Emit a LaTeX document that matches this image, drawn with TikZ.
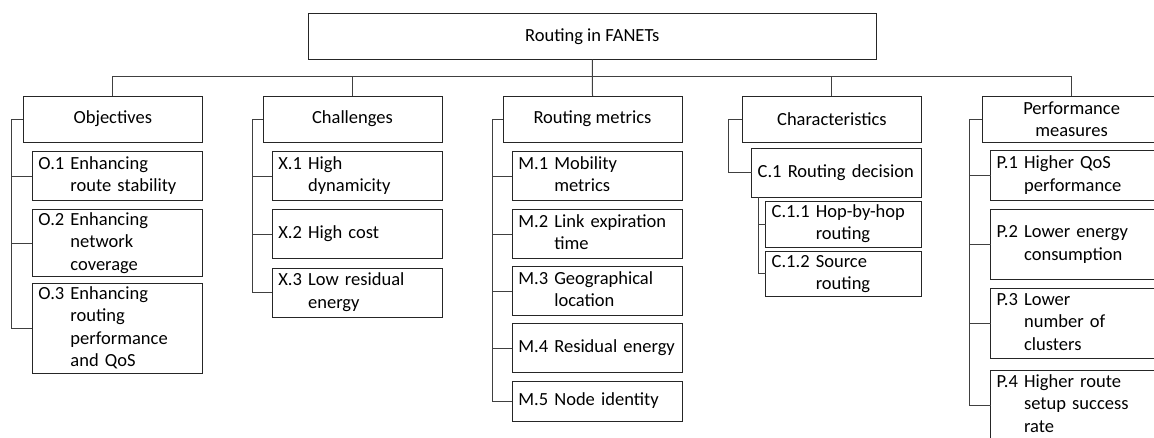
\documentclass[tikz,border=0pt]{standalone}
\usepackage{fontspec}
\setmainfont{Carlito}
\usetikzlibrary{calc}
\definecolor{bx}{HTML}{262626}
\definecolor{ln}{HTML}{404040}
\newcommand{\tb}[1]{\begin{tabular}{@{}l@{\ }l@{}}#1\end{tabular}}
\begin{document}
\begin{tikzpicture}[x=1pt,y=-1pt,
  font=\fontsize{18.5}{22.5}\selectfont,
  box/.style={draw=bx, line width=1pt, inner sep=0pt, outer sep=0pt, align=center},
  kid/.style={draw=bx, line width=1pt, anchor=north west, inner xsep=6pt, inner ysep=0pt, outer sep=0pt, align=left},
  con/.style={draw=ln, line width=1pt}]
\clip (0,0) rectangle (1154,437);
\fill[white] (0,0) rectangle (1154,437);

% root
\node[box, minimum width=567.5pt, minimum height=46pt] (root) at (592.3,36.3) {Routing in FANETs};

% level 1
\node[box, minimum width=179pt, minimum height=46pt] (obj)  at (112.8,119) {Objectives};
\node[box, minimum width=179pt, minimum height=46pt] (cha)  at (352.5,119) {Challenges};
\node[box, minimum width=179pt, minimum height=46pt] (rm)   at (592.5,119) {Routing metrics};
\node[box, minimum width=179pt, minimum height=46pt] (chr)  at (831.9,119) {Characteristics};
\node[box, minimum width=179pt, minimum height=46pt] (perf) at (1071.6,119) {Performance\\measures};

% objectives
\node[kid, text width=158pt, minimum height=48.6pt] (o1) at (32.3,151.7) {\tb{O.1&Enhancing\\&route stability}};
\node[kid, text width=158pt, minimum height=65pt]   (o2) at (32.3,209.3) {\tb{O.2&Enhancing\\&network\\&coverage}};
\node[kid, text width=158pt, minimum height=86pt]   (o3) at (32.3,283.3) {\tb{O.3&Enhancing\\&routing\\&performance\\&and QoS}};

% challenges
\node[kid, text width=158pt, minimum height=48.6pt] (x1) at (272.3,151.7) {\tb{X.1&High\\&dynamicity}};
\node[kid, text width=158pt, minimum height=49pt]   (x2) at (272.3,209.7) {\tb{X.2&High cost}};
\node[kid, text width=158pt, minimum height=49pt]   (x3) at (272.3,268) {\tb{X.3&Low residual\\&energy}};

% routing metrics
\node[kid, text width=158pt, minimum height=48.6pt] (m1) at (512.3,151.7) {\tb{M.1&Mobility\\&metrics}};
\node[kid, text width=158pt, minimum height=49pt]   (m2) at (512.3,209.7) {\tb{M.2&Link expiration\\&time}};
\node[kid, text width=158pt, minimum height=49.4pt] (m3) at (512.3,266.3) {\tb{M.3&Geographical\\&location}};
\node[kid, text width=158pt, minimum height=49pt]   (m4) at (512.3,323.7) {\tb{M.4&Residual energy}};
\node[kid, text width=158pt, minimum height=39.7pt] (m5) at (512.3,381.3) {\tb{M.5&Node identity}};

% characteristics
\node[kid, text width=157.7pt, minimum height=49pt]  (c1)  at (751.7,148.3) {\tb{C.1&Routing decision}};
\node[kid, text width=143.7pt, minimum height=46.3pt] (c11) at (765.7,201) {\tb{C.1.1&Hop-by-hop\\&routing}};
\node[kid, text width=143.7pt, minimum height=45.7pt] (c12) at (765.7,251) {\tb{C.1.2&Source\\&routing}};

% performance measures
\node[kid, text width=158.3pt, minimum height=49.3pt] (p1) at (990.7,150.7) {\tb{P.1&Higher QoS\\&performance}};
\node[kid, text width=158.3pt, minimum height=70pt]   (p2) at (990.7,209.3) {\tb{P.2&Lower energy\\&consumption}};
\node[kid, text width=158.3pt, minimum height=70pt]   (p3) at (990.7,288.3) {\tb{P.3&Lower\\&number of\\&clusters}};
\node[kid, text width=158.3pt, minimum height=68.8pt] (p4) at (990.7,370.7) {\tb{P.4&Higher route\\&setup success\\&rate}};

% bus
\coordinate (bus) at (592.5,76.5);
\draw[con] (root.south) -- (rm.north);
\draw[con] (obj.north) |- (bus) -| (perf.north);
\draw[con] (cha.north) -- (cha.north |- bus);
\draw[con] (chr.north) -- (chr.north |- bus);

% brackets
\coordinate (bo) at ($(obj.west)+(-11.5,0)$);
\draw[con] (obj.west) -- (bo) |- (o3.west);
\draw[con] (o1.west) -- (o1.west -| bo);
\draw[con] (o2.west) -- (o2.west -| bo);

\coordinate (bx) at ($(cha.west)+(-11,0)$);
\draw[con] (cha.west) -- (bx) |- (x3.west);
\draw[con] (x1.west) -- (x1.west -| bx);
\draw[con] (x2.west) -- (x2.west -| bx);

\coordinate (bm) at ($(rm.west)+(-10.5,0)$);
\draw[con] (rm.west) -- (bm) |- (m5.west);
\draw[con] (m1.west) -- (m1.west -| bm);
\draw[con] (m2.west) -- (m2.west -| bm);
\draw[con] (m3.west) -- (m3.west -| bm);
\draw[con] (m4.west) -- (m4.west -| bm);

\coordinate (bc) at ($(chr.west)+(-13.5,0)$);
\draw[con] (chr.west) -- (bc) |- (c1.west);
\coordinate (bcc) at (758.3,0);
\draw[con] (c1.south -| bcc) |- (c12.west);
\draw[con] (c11.west) -- (c11.west -| bcc);

\coordinate (bp) at ($(perf.west)+(-12.5,0)$);
\draw[con] (perf.west) -- (bp) |- (p4.west);
\draw[con] (p1.west) -- (p1.west -| bp);
\draw[con] (p2.west) -- (p2.west -| bp);
\draw[con] (p3.west) -- (p3.west -| bp);
\end{tikzpicture}
\end{document}
